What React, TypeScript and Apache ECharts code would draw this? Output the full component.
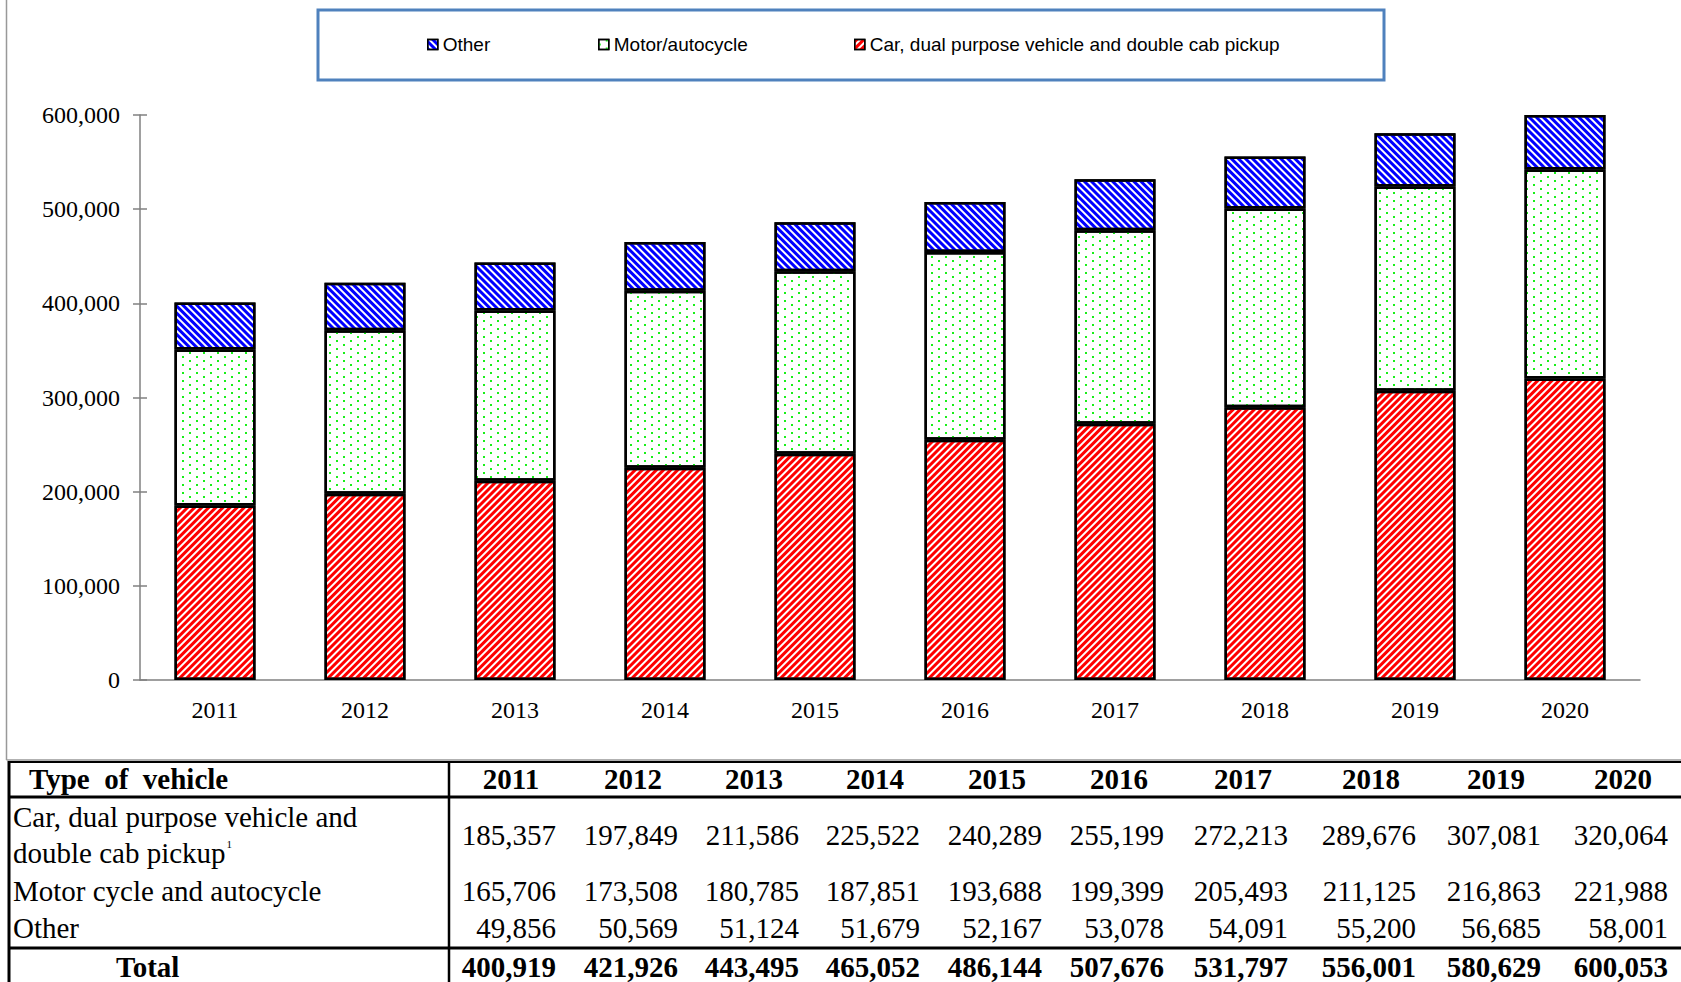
import React, { useEffect, useRef } from 'react';
import * as echarts from 'echarts';

const years = ['2011', '2012', '2013', '2014', '2015', '2016', '2017', '2018', '2019', '2020'];
const carValues = [185357, 197849, 211586, 225522, 240289, 255199, 272213, 289676, 307081, 320064];
const motorValues = [165706, 173508, 180785, 187851, 193688, 199399, 205493, 211125, 216863, 221988];
const otherValues = [49856, 50569, 51124, 51679, 52167, 53078, 54091, 55200, 56685, 58001];
const totalValues = [400919, 421926, 443495, 465052, 486144, 507676, 531797, 556001, 580629, 600053];
const yTicks = [0, 100000, 200000, 300000, 400000, 500000, 600000];

const seriesNames = ['Car, dual purpose vehicle and double cab pickup', 'Motor/autocycle', 'Other'];
const legendOrder = ['Other', 'Motor/autocycle', 'Car, dual purpose vehicle and double cab pickup'];
const tableHeaderLabel = 'Type  of  vehicle';
const carRowLabel1 = 'Car, dual purpose vehicle and';
const carRowLabel2 = 'double cab pickup';
const carRowNote = '1';
const motorRowLabel = 'Motor cycle and autocycle';
const otherRowLabel = 'Other';
const totalRowLabel = 'Total';

const fmt = (v: number) => v.toLocaleString('en-US');

const SERIF = 'Liberation Serif';
const SANS = 'Liberation Sans';

// table column layout (right edges of the value cells, in px)
const colRights = [556, 678, 799, 920, 1042, 1164, 1288, 1416, 1541, 1668];

export default function App() {
  const ref = useRef<HTMLDivElement>(null);

  useEffect(() => {
    document.body.style.margin = '0';
    const chart = echarts.init(ref.current!, null, { renderer: 'svg' });

    const redDecal = {
      symbol: 'rect', symbolSize: 1, symbolKeepAspect: false,
      dashArrayX: [1, 0], dashArrayY: [3, 2], rotation: -Math.PI / 4, color: '#ff0000',
    };
    const greenDecal = {
      symbol: 'rect', symbolSize: 0.9, symbolKeepAspect: false,
      dashArrayX: [[2, 12], [0, 7, 2, 5]], dashArrayY: [2, 2], rotation: 0, color: '#00ee00',
    };
    const blueDecal = {
      symbol: 'rect', symbolSize: 1, symbolKeepAspect: false,
      dashArrayX: [1, 0], dashArrayY: [3, 2], rotation: Math.PI / 4, color: '#0000ff',
    };
    const decals = [redDecal, greenDecal, blueDecal];
    const seriesData = [carValues, motorValues, otherValues];

    const colRight = (i: number) => colRights[i];
    const colCenter = (i: number) => colRights[i] - 45;

    const graphics: any[] = [];
    // legend box
    graphics.push({ type: 'rect', shape: { x: 318, y: 10, width: 1066, height: 70 }, style: { fill: 'none', stroke: '#4F81BD', lineWidth: 3 }, z: 10 });
    // chart frame
    graphics.push({ type: 'line', shape: { x1: 6.5, y1: 0, x2: 6.5, y2: 760 }, style: { stroke: '#999', lineWidth: 1.5 } });
    graphics.push({ type: 'line', shape: { x1: 6.5, y1: 760, x2: 1681, y2: 760 }, style: { stroke: '#999', lineWidth: 1.5 } });
    // table lines
    const hl = (y: number, w: number) => graphics.push({ type: 'line', shape: { x1: 8, y1: y, x2: 1681, y2: y }, style: { stroke: '#000', lineWidth: w } });
    const vl = (x: number, w: number) => graphics.push({ type: 'line', shape: { x1: x, y1: 761, x2: x, y2: 982 }, style: { stroke: '#000', lineWidth: w } });
    hl(762, 2);
    hl(797, 3);
    hl(948, 3);
    vl(9, 3);
    vl(449, 2.5);

    const txt = (text: string, x: number, y: number, align: string, bold: boolean, extra: any = {}) =>
      graphics.push({
        type: 'text',
        style: { text, x, y, align, verticalAlign: 'middle', fontFamily: SERIF, fontSize: 29, fontWeight: bold ? 'bold' : 'normal', fill: '#000', ...extra },
      });

    txt(tableHeaderLabel, 29, 779, 'left', true);
    years.forEach((yr, i) => txt(yr, colCenter(i), 779, 'center', true));
    txt(carRowLabel1, 13, 817, 'left', false);
    txt(carRowLabel2 + '{sup|' + carRowNote + '}', 13, 853, 'left', false, { rich: { sup: { fontSize: 11, fontFamily: SERIF, verticalAlign: 'top', padding: [0, 0, 10, 1] } } });
    txt(motorRowLabel, 13, 891, 'left', false);
    txt(otherRowLabel, 13, 928, 'left', false);
    txt(totalRowLabel, 116, 967, 'left', true);
    carValues.forEach((v, i) => txt(fmt(v), colRight(i), 835, 'right', false));
    motorValues.forEach((v, i) => txt(fmt(v), colRight(i), 891, 'right', false));
    otherValues.forEach((v, i) => txt(fmt(v), colRight(i), 928, 'right', false));
    totalValues.forEach((v, i) => txt(fmt(v), colRight(i), 967, 'right', true));

    const legendLefts = [427, 598, 854];

    const axisGray = '#808080';
    const yMin = yTicks[0];
    const yMax = yTicks[yTicks.length - 1];
    const yInterval = yTicks[1] - yTicks[0];

    const option: any = {
      animation: false,
      backgroundColor: '#fff',
      grid: { left: 140, right: 41, top: 115, bottom: 302, containLabel: false },
      legend: legendOrder.map((name, i) => ({
        data: [name],
        left: legendLefts[i],
        top: 35,
        padding: 0,
        icon: 'rect',
        itemWidth: 10,
        itemHeight: 10,
        selectedMode: false,
        textStyle: { fontFamily: SANS, fontSize: 19, color: '#000' },
        itemStyle: { borderColor: '#000', borderWidth: 1.5 },
      })),
      xAxis: {
        type: 'category',
        data: years,
        axisLine: { show: true, lineStyle: { color: axisGray, width: 1.5 } },
        axisTick: { show: false },
        axisLabel: { fontFamily: SERIF, fontSize: 24, color: '#000', margin: 18 },
      },
      yAxis: [
        {
          type: 'value', min: yMin, max: yMax, interval: yInterval, position: 'left',
          axisLine: { show: true, lineStyle: { color: axisGray, width: 1.5 } },
          axisTick: { show: true, length: 7, lineStyle: { color: axisGray, width: 1.5 } },
          axisLabel: { formatter: (v: number) => fmt(v), fontFamily: SERIF, fontSize: 24, color: '#000', margin: 20 },
          splitLine: { show: false },
        },
        {
          type: 'value', min: yMin, max: yMax, interval: yInterval, position: 'left', offset: 0,
          axisLine: { show: false },
          axisTick: { show: true, inside: true, length: 7, lineStyle: { color: axisGray, width: 1.5 } },
          axisLabel: { show: false },
          splitLine: { show: false },
        },
      ],
      series: seriesNames.map((name, i) => ({
        name,
        type: 'bar',
        stack: 'total',
        yAxisIndex: 0,
        barWidth: 81,
        data: seriesData[i],
        itemStyle: { color: '#fff', borderColor: '#000', borderWidth: 2.5, decal: decals[i] },
        emphasis: { disabled: true },
      })),
      graphic: { elements: graphics },
    };

    chart.setOption(option);
    return () => chart.dispose();
  }, []);

  return <div ref={ref} style={{ position: 'absolute', left: 0, top: 0, width: 1681, height: 982 }} />;
}
